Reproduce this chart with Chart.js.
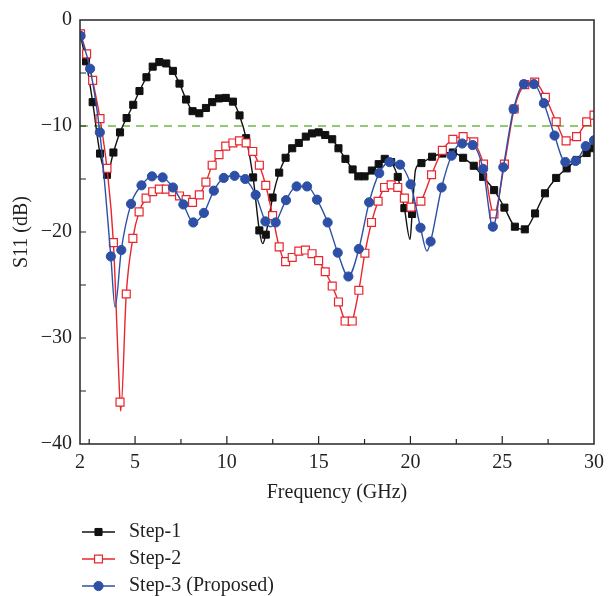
<!DOCTYPE html>
<html><head><meta charset="utf-8">
<script src="https://cdn.jsdelivr.net/npm/chart.js@4/dist/chart.umd.min.js"></script>
<style>html,body{margin:0;padding:0;background:#fff;} #wrap{width:611px;height:596px;}</style>
</head><body><div id="wrap"><canvas id="c" width="611" height="596"></canvas></div>
<script>
// ---------- data ----------
const seriesNames = ['Step-1', 'Step-2', 'Step-3 (Proposed)'];

const step1Freq = [2.0,2.33,2.69,3.09,3.47,3.82,4.18,4.54,4.9,5.24,5.62,5.96,6.32,6.7,7.06,7.42,7.78,8.13,8.5,8.86,9.2,9.57,9.94,10.33,10.69,11.05,11.43,11.77,12.12,12.49,12.85,13.2,13.56,13.92,14.3,14.64,15.0,15.36,15.74,16.08,16.46,16.85,17.16,17.5,17.9,18.27,18.6,18.95,19.31,19.67,20.09,20.6,21.18,21.74,22.31,22.87,23.45,23.96,24.56,25.12,25.69,26.23,26.79,27.33,27.94,28.51,29.05,29.6,30.0];
const step1S11  = [-1.3,-3.9,-7.75,-12.6,-14.6,-12.5,-10.6,-9.25,-8.0,-6.7,-5.4,-4.4,-3.97,-4.1,-4.8,-6.0,-7.5,-8.6,-8.8,-8.3,-7.75,-7.4,-7.35,-7.7,-9.0,-11.15,-14.85,-19.85,-20.25,-16.75,-14.4,-13.0,-12.1,-11.6,-11.0,-10.7,-10.6,-10.85,-11.25,-12.1,-13.1,-14.1,-14.75,-14.75,-14.2,-13.6,-13.1,-13.4,-14.8,-17.75,-18.3,-13.5,-12.9,-12.6,-12.5,-13.0,-13.75,-14.8,-16.05,-17.7,-19.5,-19.75,-18.25,-16.35,-14.9,-14.0,-13.2,-12.55,-12.1];
// curve-only samples (no marker) at the sharp resonance dips
const step1CurveFreq = [11.95, 19.98, 20.28];
const step1CurveS11  = [-21.1, -20.7, -14.1];

const step2Freq = [2.03,2.36,2.69,3.09,3.47,3.82,4.18,4.52,4.88,5.22,5.6,5.96,6.32,6.7,7.06,7.42,7.78,8.13,8.5,8.86,9.2,9.57,9.94,10.33,10.69,11.05,11.41,11.77,12.12,12.49,12.85,13.2,13.56,13.92,14.28,14.64,15.0,15.36,15.74,16.08,16.44,16.83,17.19,17.52,17.88,18.24,18.59,18.95,19.31,19.67,20.03,20.57,21.15,21.74,22.31,22.87,23.45,23.98,24.55,25.12,25.65,26.23,26.77,27.35,27.94,28.48,29.05,29.6,30.0];
const step2S11  = [-1.3,-3.2,-5.7,-9.3,-14.0,-21.0,-36.05,-25.85,-20.6,-18.1,-16.8,-16.2,-15.95,-15.95,-16.2,-16.6,-16.95,-17.2,-16.5,-15.3,-13.7,-12.7,-11.9,-11.6,-11.4,-11.6,-12.4,-13.7,-15.6,-18.45,-21.4,-22.8,-22.4,-21.8,-21.7,-22.05,-22.7,-23.75,-25.1,-26.6,-28.4,-28.4,-25.5,-22.0,-19.1,-17.1,-15.8,-15.55,-15.8,-16.8,-17.65,-17.1,-14.6,-12.3,-11.25,-11.0,-11.5,-13.6,-18.3,-13.6,-8.4,-6.1,-5.85,-7.3,-9.6,-11.4,-11.0,-9.6,-8.97];
const step2CurveFreq = [4.22, 16.64];
const step2CurveS11  = [-36.9, -28.8];

const step3Freq = [2.03,2.55,3.08,3.68,4.25,4.78,5.35,5.92,6.5,7.06,7.63,8.17,8.75,9.29,9.83,10.42,11.0,11.57,12.1,12.66,13.22,13.8,14.37,14.91,15.49,16.04,16.62,17.19,17.75,18.3,18.86,19.44,20.01,20.55,21.1,21.7,22.24,22.82,23.39,23.96,24.49,25.06,25.62,26.18,26.73,27.27,27.85,28.44,29.0,29.55,30.0];
const step3S11  = [-1.5,-4.6,-10.6,-22.3,-21.7,-17.35,-15.6,-14.75,-14.85,-15.8,-17.4,-19.1,-18.2,-16.1,-14.9,-14.7,-15.0,-16.5,-19.0,-19.1,-17.0,-15.7,-15.7,-16.95,-19.1,-21.95,-24.2,-21.6,-17.2,-14.45,-13.4,-13.65,-15.5,-19.6,-20.9,-15.8,-12.8,-11.65,-11.8,-14.05,-19.5,-13.9,-8.4,-6.05,-6.05,-7.85,-10.9,-13.4,-13.3,-11.9,-11.35];
const step3CurveFreq = [3.91, 12.38, 20.9];
const step3CurveS11  = [-27.1, -19.5, -21.8];

const referenceLevel = -10;          // -10 dB criterion line
const xRange = [2, 30];
const yRange = [-40, 0];
const xTickLabels = [2, 5, 10, 15, 20, 25, 30];
const xMajorTickMarks = [5, 10, 15, 20, 25];
const xMinorTickMarks = [2.5, 7.5, 12.5, 17.5, 22.5, 27.5];
const yTickLabels = [0, -10, -20, -30, -40];
const yTickMarks = [-35, -30, -25, -20, -15, -10, -5];

// ---------- build ----------
const SERIF = '"Liberation Serif", "DejaVu Serif", serif';
function merge(fx, fy, cx, cy, r) {
  const pts = fx.map((x, i) => ({x, y: fy[i], r}));
  cx.forEach((x, i) => pts.push({x, y: cy[i], r: 0}));
  pts.sort((a, b) => a.x - b.x);
  return pts;
}
function makeSet(label, pts, color, style, fill, bw, order) {
  return {
    label, order,
    data: pts.map(p => ({x: p.x, y: p.y})),
    pointRadius: pts.map(p => p.r),
    pointHoverRadius: pts.map(p => p.r),
    pointStyle: style,
    borderColor: color, backgroundColor: fill,
    pointBorderColor: color, pointBackgroundColor: fill,
    pointBorderWidth: bw, borderWidth: 1.4,
    cubicInterpolationMode: 'monotone', fill: false
  };
}
const colors = ['#111111', '#e8262d', '#2d50a6'];
const datasets = [
  makeSet(seriesNames[0], merge(step1Freq, step1S11, step1CurveFreq, step1CurveS11, 5), colors[0], 'rect', colors[0], 1, 2),
  makeSet(seriesNames[1], merge(step2Freq, step2S11, step2CurveFreq, step2CurveS11, 5.6), colors[1], 'rect', '#ffffff', 1.2, 1),
  makeSet(seriesNames[2], merge(step3Freq, step3S11, step3CurveFreq, step3CurveS11, 4.6), colors[2], 'circle', colors[2], 1, 0),
  {
    label: 'ref', order: 3,
    data: [{x: xRange[0], y: referenceLevel}, {x: xRange[1], y: referenceLevel}],
    borderColor: '#6cb843', borderWidth: 1.6, borderDash: [8, 6], pointRadius: 0, fill: false
  }
];

function drawMarker(ctx, style, x, y, r, fill, stroke, bw) {
  ctx.beginPath();
  if (style === 'circle') {
    ctx.arc(x, y, r, 0, Math.PI * 2);
  } else {
    const s = r * Math.SQRT1_2;
    ctx.rect(x - s, y - s, 2 * s, 2 * s);
  }
  ctx.fillStyle = fill; ctx.fill();
  ctx.strokeStyle = stroke; ctx.lineWidth = bw; ctx.stroke();
}

const framePlugin = {
  id: 'frame',
  afterDatasetsDraw(chart) {
    const {ctx, chartArea: a, scales: {x, y}} = chart;
    ctx.save();
    ctx.strokeStyle = '#222';
    ctx.lineWidth = 1.2;
    ctx.beginPath();
    xMajorTickMarks.forEach(v => { const px = x.getPixelForValue(v); ctx.moveTo(px, a.bottom); ctx.lineTo(px, a.bottom - 8); });
    xMinorTickMarks.forEach(v => { const px = x.getPixelForValue(v); ctx.moveTo(px, a.bottom); ctx.lineTo(px, a.bottom - 5); });
    yTickMarks.forEach(v => { const py = y.getPixelForValue(v); ctx.moveTo(a.left, py); ctx.lineTo(a.left + 6, py); });
    ctx.stroke();
    ctx.strokeStyle = '#333';
    ctx.lineWidth = 1.6;
    ctx.strokeRect(a.left, a.top, a.right - a.left, a.bottom - a.top);
    ctx.restore();
  },
  afterDraw(chart) {
    const ctx = chart.ctx;
    const rows = [532, 559, 586];
    ctx.save();
    for (let i = 0; i < 3; i++) {
      const ds = chart.data.datasets[i];
      const yy = rows[i];
      ctx.strokeStyle = ds.borderColor; ctx.lineWidth = 1.4;
      ctx.beginPath(); ctx.moveTo(82, yy); ctx.lineTo(115, yy); ctx.stroke();
      const r = Math.max(...ds.pointRadius);
      drawMarker(ctx, ds.pointStyle, 98.5, yy, r, ds.pointBackgroundColor, ds.pointBorderColor, ds.pointBorderWidth);
      ctx.fillStyle = '#231f20';
      ctx.font = '20px ' + SERIF;
      ctx.textBaseline = 'middle';
      ctx.textAlign = 'left';
      ctx.fillText(ds.label, 129, yy);
    }
    ctx.restore();
  }
};

new Chart(document.getElementById('c'), {
  type: 'line',
  data: {datasets},
  plugins: [framePlugin],
  options: {
    responsive: false, devicePixelRatio: 1, animation: false,
    layout: {padding: {top: 16, right: 10, bottom: 90, left: 0}},
    plugins: {legend: {display: false}, tooltip: {enabled: false}},
    scales: {
      x: {
        type: 'linear', min: xRange[0], max: xRange[1],
        afterBuildTicks: s => { s.ticks = xTickLabels.map(v => ({value: v})); },
        afterFit: s => { s.height = 62; },
        grid: {display: false, drawTicks: false}, border: {display: false},
        ticks: {autoSkip: false, maxRotation: 0, padding: 7, color: '#231f20', font: {family: SERIF, size: 20}},
        title: {display: true, text: 'Frequency (GHz)', color: '#231f20', font: {family: SERIF, size: 20}, padding: {top: 0, bottom: 1}}
      },
      y: {
        type: 'linear', min: yRange[0], max: yRange[1],
        afterBuildTicks: s => { s.ticks = yTickLabels.map(v => ({value: v})); },
        afterFit: s => { s.width = 80; },
        grid: {display: false, drawTicks: false}, border: {display: false},
        ticks: {padding: 8, color: '#231f20', font: {family: SERIF, size: 20},
          callback: v => (v < 0 ? '\u2212' + Math.abs(v) : String(v))},
        title: {display: true, text: 'S11 (dB)', color: '#231f20', font: {family: SERIF, size: 20}, padding: {top: 10, bottom: 0}}
      }
    }
  }
});
</script></body></html>
